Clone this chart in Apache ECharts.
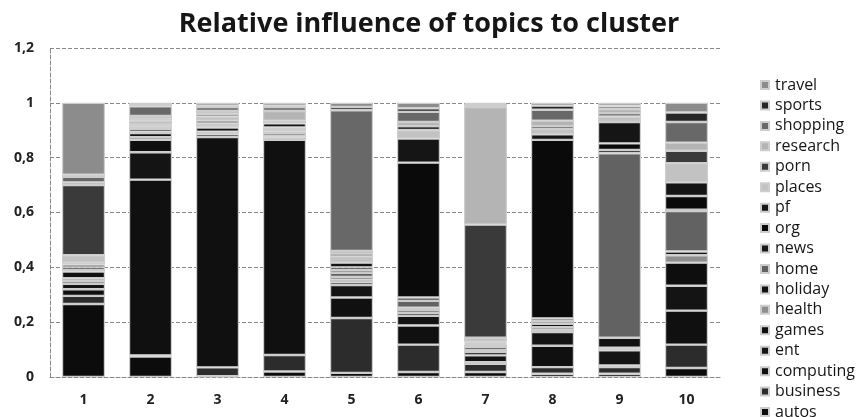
<!DOCTYPE html>
<html>
<head>
<meta charset="utf-8">
<script src="https://cdn.jsdelivr.net/npm/echarts@6/dist/echarts.min.js"></script>
<style>
  html, body { margin: 0; padding: 0; background: #fff; }
  #chart { width: 857px; height: 417px; }
</style>
</head>
<body>
<div id="chart"></div>
<script>
// Clusters on the x axis
const clusters = ['1', '2', '3', '4', '5', '6', '7', '8', '9', '10'];
const yTicks = [0, 0.2, 0.4, 0.6, 0.8, 1, 1.2];

// Share of each topic per cluster (stacked bottom to top)
const autos     = [0.266, 0.075, 0.003, 0.020, 0.015, 0.018, 0.018, 0.012, 0.012, 0.033];
const business  = [0.030, 0.004, 0.032, 0.060, 0.200, 0.100, 0.030, 0.024, 0.024, 0.085];
const computing = [0.024, 0.641, 0.840, 0.785, 0.075, 0.070, 0.006, 0.078, 0.006, 0.124];
const ent       = [0.020, 0.100, 0.010, 0.008, 0.045, 0.035, 0.025, 0.050, 0.055, 0.091];
const games     = [0.010, 0.045, 0.005, 0.005, 0.010, 0.010, 0.012, 0.008, 0.006, 0.084];
const health    = [0.010, 0.010, 0.005, 0.012, 0.010, 0.012, 0.008, 0.010, 0.004, 0.027];
const holiday   = [0.025, 0.015, 0.015, 0.005, 0.010, 0.008, 0.010, 0.012, 0.036, 0.014];
const home      = [0.005, 0.005, 0.005, 0.005, 0.015, 0.025, 0.008, 0.010, 0.673, 0.147];
const news      = [0.010, 0.010, 0.005, 0.005, 0.010, 0.012, 0.004, 0.010, 0.012, 0.005];
const org       = [0.010, 0.008, 0.005, 0.005, 0.010, 0.492, 0.004, 0.651, 0.024, 0.050];
const pf        = [0.007, 0.007, 0.010, 0.015, 0.017, 0.088, 0.004, 0.020, 0.078, 0.050];
const places    = [0.027, 0.015, 0.015, 0.005, 0.023, 0.030, 0.014, 0.020, 0.020, 0.070];
const porn      = [0.256, 0.007, 0.010, 0.005, 0.010, 0.015, 0.413, 0.010, 0.012, 0.045];
const research  = [0.010, 0.010, 0.010, 0.035, 0.010, 0.015, 0.429, 0.020, 0.015, 0.030];
const shopping  = [0.020, 0.035, 0.015, 0.015, 0.513, 0.037, 0.003, 0.040, 0.010, 0.075];
const sports    = [0.008, 0.005, 0.005, 0.005, 0.012, 0.013, 0.008, 0.015, 0.003, 0.035];
const travel    = [0.262, 0.008, 0.010, 0.010, 0.015, 0.020, 0.004, 0.010, 0.010, 0.035];

const topics = [
  ['autos', autos, '#0c0c0c'],
  ['business', business, '#2c2c2c'],
  ['computing', computing, '#101010'],
  ['ent', ent, '#141414'],
  ['games', games, '#0e0e0e'],
  ['health', health, '#8e8e8e'],
  ['holiday', holiday, '#121212'],
  ['home', home, '#626262'],
  ['news', news, '#181818'],
  ['org', org, '#0a0a0a'],
  ['pf', pf, '#151515'],
  ['places', places, '#c2c2c2'],
  ['porn', porn, '#3a3a3a'],
  ['research', research, '#b4b4b4'],
  ['shopping', shopping, '#686868'],
  ['sports', sports, '#262626'],
  ['travel', travel, '#8c8c8c']
];

const chart = echarts.init(document.getElementById('chart'));

const series = topics.map(([name, values, color]) => ({
  name: name,
  type: 'bar',
  stack: 'share',
  barWidth: 43,
  data: values,
  itemStyle: { color: color, borderColor: '#cdcdcd', borderWidth: 1.2 },
  emphasis: { disabled: true }
}));

chart.setOption({
  animation: false,
  backgroundColor: '#ffffff',
  title: {
    text: 'Relative influence of topics to cluster',
    left: 424,
    textAlign: 'center',
    top: 6,
    textStyle: { fontFamily: 'Open Sans', fontWeight: 'bold', fontSize: 27, color: '#161616' }
  },
  legend: {
    orient: 'vertical',
    left: 760,
    top: 77,
    height: 350,
    padding: 0,
    data: topics.map(t => t[0]).reverse(),
    icon: 'rect',
    itemWidth: 8,
    itemHeight: 8,
    itemGap: 4.44,
    textStyle: { fontFamily: 'Open Sans', fontSize: 16, color: '#161616', lineHeight: 16, padding: [0, 0, 0, 1] }
  },
  grid: { left: 50, right: 137, top: 48, bottom: 40, containLabel: false },
  xAxis: {
    type: 'category',
    data: clusters,
    axisLine: { show: true, lineStyle: { color: '#888', type: 'dashed', width: 1 } },
    axisTick: { show: false },
    axisLabel: { margin: 16, fontFamily: 'Open Sans', fontWeight: 'bold', fontSize: 14, color: '#222' }
  },
  yAxis: {
    type: 'value',
    min: yTicks[0],
    max: yTicks[yTicks.length - 1],
    interval: 0.2,
    axisLine: { show: true, lineStyle: { color: '#888', type: 'dashed', width: 1 } },
    axisTick: { show: false },
    splitLine: { show: true, lineStyle: { color: '#888', type: 'dashed', width: 1 } },
    axisLabel: {
      margin: 16,
      fontFamily: 'Open Sans',
      fontWeight: 'bold',
      fontSize: 14,
      color: '#222',
      formatter: v => String(Math.round(v * 10) / 10).replace('.', ',')
    }
  },
  series: series
});
</script>
</body>
</html>
